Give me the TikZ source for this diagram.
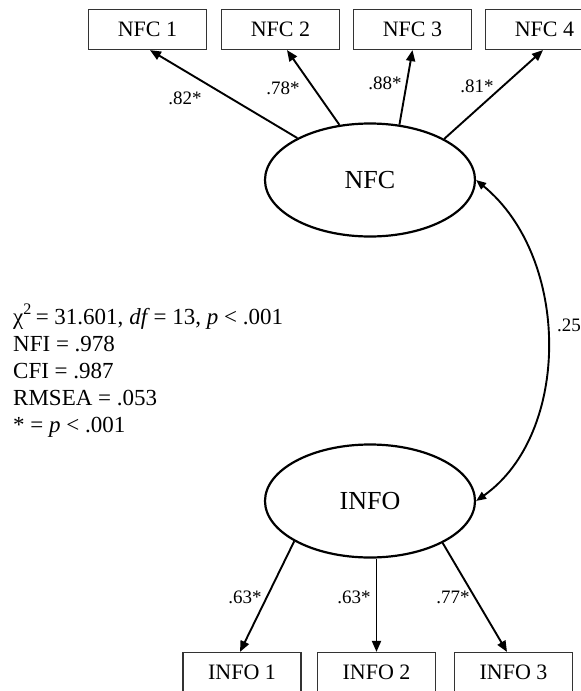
\documentclass[tikz,border=0pt]{standalone}
\usepackage{fontspec}
\setmainfont{Liberation Serif}
\usetikzlibrary{arrows.meta,shapes.geometric}
\begin{document}
\begin{tikzpicture}[x=1pt,y=-1pt,
  indicator/.style={draw=black!80, line width=1.2pt, minimum width=118pt,
    minimum height=40pt, inner sep=0pt, font=\fontsize{22}{26}\selectfont},
  latent/.style={draw, ellipse, line width=2.2pt, minimum width=210pt,
    minimum height=113pt, inner sep=0pt, font=\fontsize{26}{30}\selectfont},
  load/.style={line width=1.9pt, -{Triangle[length=11pt,width=9pt]}},
  corr/.style={line width=1.9pt,
    {Triangle[length=10pt,width=8pt]}-{Triangle[length=10pt,width=8pt]}},
  coef/.style={font=\fontsize{19}{22}\selectfont, inner sep=0pt},
  fitline/.style={anchor=base west, inner sep=0pt, font=\fontsize{23}{27}\selectfont},
]
\useasboundingbox (0,0) rectangle (581,691);
\clip (0,0) rectangle (581,691);

% observed indicators
\node[indicator] (n1) at (147.5,29.5) {NFC 1};
\node[indicator] (n2) at (280.5,29.5) {NFC 2};
\node[indicator] (n3) at (412.5,29.5) {NFC 3};
\node[indicator] (n4) at (544.5,29.5) {NFC 4};
\node[indicator] (i1) at (242,672.5) {INFO 1};
\node[indicator] (i2) at (376.5,672.5) {INFO 2};
\node[indicator] (i3) at (513.5,672.5) {INFO 3};

% latent factors
\node[latent] (nfc) at (370,180) {NFC};
\node[latent] (info) at (370,501) {INFO};

% factor loadings
\draw[load] (nfc.150.8) -- ([xshift=2.5pt]n1.south);
\draw[load] (nfc.119.3) -- ([xshift=6.5pt]n2.south);
\draw[load] (nfc.62.2) -- (n3.south);
\draw[load] (nfc.29.7) -- ([xshift=-1.5pt]n4.south);
\draw[load] (info.208.6) -- ([xshift=-2pt]i1.north);
\draw[load] (info.south -| i2.north) -- (i2.north);
\draw[load] (info.330.8) -- ([xshift=-6.5pt]i3.north);

% factor correlation
\draw[corr] (nfc.east) .. controls (571,258) and (571,434) .. (info.east);

% coefficients
\node[coef] (c1) at (185,98) {.82*};
\node[coef] (c2) at (283,88) {.78*};
\node[coef] (c3) at (385,83) {.88*};
\node[coef] (c4) at (477,86) {.81*};
\node[coef] (c5) at (569,325) {.25};
\node[coef] (c6) at (245,597) {.63*};
\node[coef] (c7) at (354,597) {.63*};
\node[coef] (c8) at (453,597) {.77*};

% fit statistics
\node[fitline] (st1) at (13,324) {χ\textsuperscript{2}\,= 31.601, \textit{df}\,= 13, \textit{p} < .001};
\node[fitline] (st2) at (13,351) {NFI = .978};
\node[fitline] (st3) at (13,378) {CFI = .987};
\node[fitline] (st4) at (13,405) {RMSEA = .053};
\node[fitline] (st5) at (13,432) {* = \textit{p} < .001};
\end{tikzpicture}
\end{document}
